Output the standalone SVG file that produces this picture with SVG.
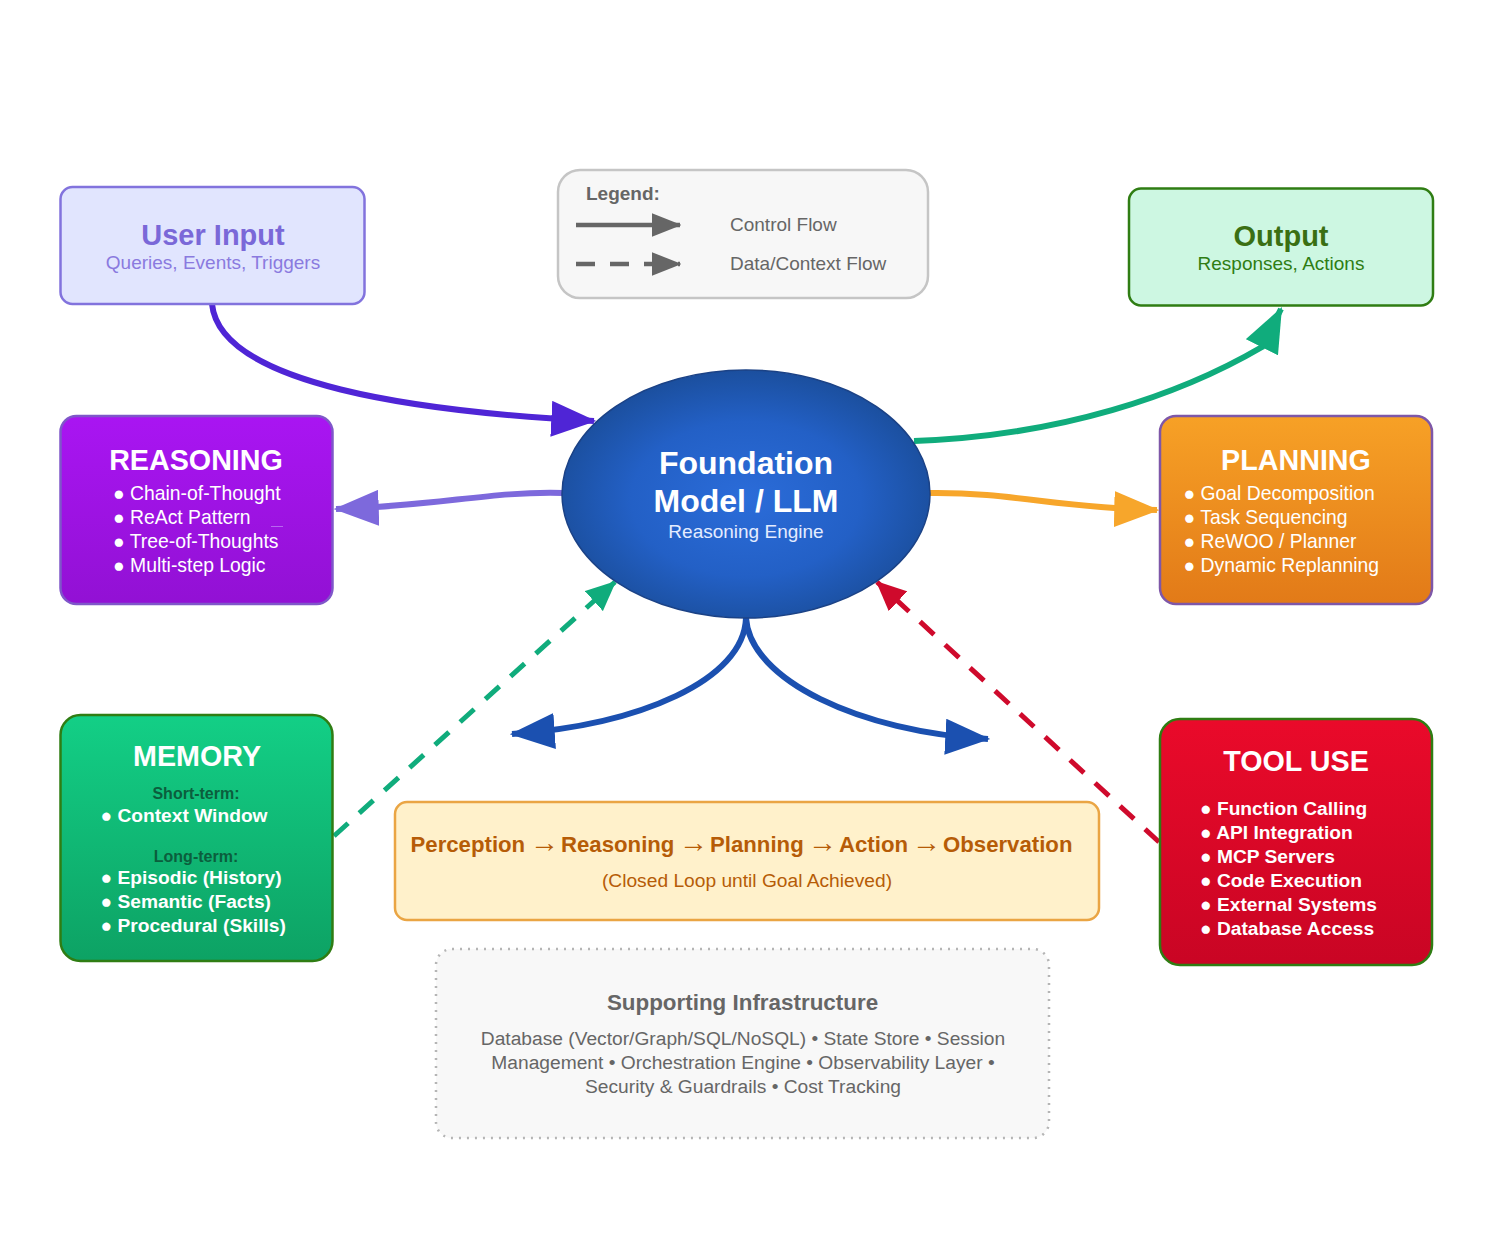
<svg xmlns="http://www.w3.org/2000/svg" width="1500" height="1256" viewBox="0 0 1500 1256">
<style>
text{font-family:"Liberation Sans",Arial,sans-serif;text-anchor:middle}
.l{text-anchor:start}
.t{font-size:28.700px;font-weight:700;fill:#fff}
.i{font-size:19.350px;fill:#fff}
.ib{font-size:19.200px;font-weight:700;fill:#fff}
.f{fill:none;stroke-width:6}
.box{stroke-width:2.500}
.ar{font-weight:400;font-size:29px}
</style>
<defs>
<linearGradient id="gp" x1="0" y1="0" x2="0" y2="1"><stop offset="0" stop-color="#a915f2"/><stop offset="1" stop-color="#9211d4"/></linearGradient>
<linearGradient id="go" x1="0" y1="0" x2="0" y2="1"><stop offset="0" stop-color="#f7a126"/><stop offset="1" stop-color="#e27a18"/></linearGradient>
<linearGradient id="gg" x1="0" y1="0" x2="0" y2="1"><stop offset="0" stop-color="#13cf86"/><stop offset="1" stop-color="#0da264"/></linearGradient>
<linearGradient id="gr" x1="0" y1="0" x2="0" y2="1"><stop offset="0" stop-color="#ea0a2a"/><stop offset="1" stop-color="#c90524"/></linearGradient>
<radialGradient id="gb" cx="0.5" cy="0.52" r="0.52"><stop offset="0" stop-color="#2b6cd9"/><stop offset="0.6" stop-color="#2360c6"/><stop offset="1" stop-color="#1b4f9e"/></radialGradient>
<marker id="a1" viewBox="0 0 10 8" refX="9.500" refY="4" markerWidth="7.500" markerHeight="6" orient="auto"><path d="M0 0L10 4L0 8Z" fill="#4f25d6"/></marker>
<marker id="a2" viewBox="0 0 10 8" refX="9.500" refY="4" markerWidth="7.500" markerHeight="6" orient="auto"><path d="M0 0L10 4L0 8Z" fill="#7d69dc"/></marker>
<marker id="a3" viewBox="0 0 10 8" refX="9.500" refY="4" markerWidth="7.500" markerHeight="6" orient="auto"><path d="M0 0L10 4L0 8Z" fill="#10ac7c"/></marker>
<marker id="a4" viewBox="0 0 10 8" refX="9.500" refY="4" markerWidth="7.500" markerHeight="6" orient="auto"><path d="M0 0L10 4L0 8Z" fill="#f7a62b"/></marker>
<marker id="a5" viewBox="0 0 10 8" refX="9.500" refY="4" markerWidth="7.500" markerHeight="6" orient="auto"><path d="M0 0L10 4L0 8Z" fill="#1b50b0"/></marker>
<marker id="a6" viewBox="0 0 10 9" refX="9.500" refY="4.500" markerWidth="6" markerHeight="5.400" orient="auto"><path d="M0 0L10 4.500L0 9Z" fill="#10ac7c"/></marker>
<marker id="a7" viewBox="0 0 10 9" refX="9.500" refY="4.500" markerWidth="6" markerHeight="5.400" orient="auto"><path d="M0 0L10 4.500L0 9Z" fill="#cf0a2c"/></marker>
<marker id="a8" viewBox="0 0 10 8" refX="9.500" refY="4" markerWidth="6.600" markerHeight="5.280" orient="auto"><path d="M0 0L10 4L0 8Z" fill="#666"/></marker>
</defs>
<rect width="1500" height="1256" fill="#fff"/>
<g id="connectors">
<path class="f" stroke="#4f25d6" marker-end="url(#a1)" d="M212 304C220 385 420 412 594 421"/>
<path class="f" stroke="#7d69dc" marker-end="url(#a2)" d="M563 493C490 491 440 506 336 509"/>
<path class="f" stroke="#10ac7c" marker-end="url(#a3)" d="M914 441C1060 436 1180 395 1262 347L1281 309"/>
<path class="f" stroke="#f7a62b" marker-end="url(#a4)" d="M930 493C1010 492 1060 508 1157 510"/>
<path class="f" stroke="#1b50b0" marker-end="url(#a5)" d="M746 618C744 680 640 725 512 734"/>
<path class="f" stroke="#1b50b0" marker-end="url(#a5)" d="M746 618C750 680 860 732 988 739"/>
<path class="f" stroke="#10ac7c" stroke-dasharray="19 15" style="stroke-width:5" marker-end="url(#a6)" d="M334 836L615 582"/>
<path class="f" stroke="#cf0a2c" stroke-dasharray="19 15" style="stroke-width:5" marker-end="url(#a7)" d="M1159 842L877 582"/>
</g>
<g id="user-input"><rect class="box" x="60.500" y="187" width="304" height="117" rx="12" fill="#e1e5fe" stroke="#8273dd"/><text x="213" y="245" font-size="29" font-weight="700" fill="#7a68d8">User Input</text><text x="213" y="269" font-size="19" fill="#8a7adf">Queries, Events, Triggers</text></g>
<g id="legend"><rect x="558" y="170" width="370" height="128" rx="22" fill="#f7f7f7" stroke="#c5c5c5" stroke-width="2.500"/><text class="l" x="586" y="200" font-size="19" font-weight="700" fill="#666">Legend:</text>
<path d="M576 225H680" stroke="#666" stroke-width="4.500" fill="none" marker-end="url(#a8)"/>
<path d="M576 264H680" stroke="#666" stroke-width="4.500" stroke-dasharray="19 15" fill="none" marker-end="url(#a8)"/>
<text class="l" x="730" y="231" font-size="19" fill="#666">Control Flow</text><text class="l" x="730" y="270" font-size="19" fill="#666">Data/Context Flow</text></g>
<g id="output"><rect class="box" x="1129" y="188.500" width="304" height="117" rx="12" fill="#cdf7e2" stroke="#2f7d13"/><text x="1281" y="246" font-size="29" font-weight="700" fill="#3a6f13">Output</text><text x="1281" y="270" font-size="19" fill="#2f7d13">Responses, Actions</text></g>
<g id="reasoning"><rect class="box" x="60.500" y="416" width="272" height="188" rx="16" fill="url(#gp)" stroke="#7f57c9"/><text class="t" x="196" y="470">REASONING</text>
<text class="i l" x="113" y="500">● Chain-of-Thought</text><text class="i l" x="113" y="524">● ReAct Pattern</text><text class="i l" x="113" y="548">● Tree-of-Thoughts</text><text class="i l" x="113" y="572">● Multi-step Logic</text><path d="M271 526.500H283" stroke="#b866f0" stroke-width="1"/></g>
<g id="planning"><rect class="box" x="1160" y="416" width="272" height="188" rx="16" fill="url(#go)" stroke="#7e57a8"/><text class="t" x="1296" y="470">PLANNING</text><text class="i l" x="1183.500" y="500">● Goal Decomposition</text><text class="i l" x="1183.500" y="524">● Task Sequencing</text><text class="i l" x="1183.500" y="548">● ReWOO / Planner</text><text class="i l" x="1183.500" y="572">● Dynamic Replanning</text></g>
<g id="foundation"><ellipse cx="746" cy="494" rx="184" ry="124" fill="url(#gb)" stroke="#1b4286" stroke-width="1.500"/><text x="746" y="473.500" font-size="32" font-weight="700" fill="#fff">Foundation</text><text x="746" y="512" font-size="32" font-weight="700" fill="#fff">Model / LLM</text><text x="746" y="538" font-size="19" fill="#e4ecff">Reasoning Engine</text></g>
<g id="memory"><rect class="box" x="60.500" y="715" width="272" height="246" rx="20" fill="url(#gg)" stroke="#2f7d13"/><text class="t" x="197" y="766">MEMORY</text><text x="196" y="799" font-size="16" font-weight="700" fill="#0b5e3d">Short-term:</text><text class="ib l" x="100.500" y="822">● Context Window</text><text x="196" y="862" font-size="16" font-weight="700" fill="#0b5e3d">Long-term:</text><text class="ib l" x="100.500" y="884">● Episodic (History)</text><text class="ib l" x="100.500" y="908">● Semantic (Facts)</text><text class="ib l" x="100.500" y="932">● Procedural (Skills)</text></g>
<g id="tool-use"><rect class="box" x="1160" y="719" width="272" height="246" rx="20" fill="url(#gr)" stroke="#2f7d13"/><text class="t" x="1296" y="771">TOOL USE</text><text class="ib l" x="1200" y="815">● Function Calling</text><text class="ib l" x="1200" y="839">● API Integration</text><text class="ib l" x="1200" y="863">● MCP Servers</text><text class="ib l" x="1200" y="887">● Code Execution</text><text class="ib l" x="1200" y="911">● External Systems</text><text class="ib l" x="1200" y="935">● Database Access</text></g>
<g id="loop"><rect x="395" y="802" width="704" height="118" rx="12" fill="#fff1cb" stroke="#eaa544" stroke-width="2.500"/><text class="l" y="851.500" font-size="22.200" font-weight="700" fill="#b65c07"><tspan x="410.500">Perception</tspan><tspan class="ar" x="530">→</tspan><tspan x="561">Reasoning</tspan><tspan class="ar" x="679">→</tspan><tspan x="710">Planning</tspan><tspan class="ar" x="808">→</tspan><tspan x="839">Action</tspan><tspan class="ar" x="912">→</tspan><tspan x="943">Observation</tspan></text><text x="747" y="887" font-size="19.200" fill="#b65c07">(Closed Loop until Goal Achieved)</text></g>
<g id="infrastructure"><rect x="436" y="949" width="613" height="189" rx="16" fill="#f8f8f8" stroke="#b5b5b5" stroke-width="2.500" stroke-dasharray="2 6"/><text x="742.500" y="1010" font-size="22.400" font-weight="700" fill="#666">Supporting Infrastructure</text><text x="743" y="1045" font-size="19.200" fill="#666">Database (Vector/Graph/SQL/NoSQL) • State Store • Session</text><text x="743" y="1069" font-size="19.200" fill="#666">Management • Orchestration Engine • Observability Layer •</text><text x="743" y="1093" font-size="19.200" fill="#666">Security &amp; Guardrails • Cost Tracking</text></g>
</svg>
